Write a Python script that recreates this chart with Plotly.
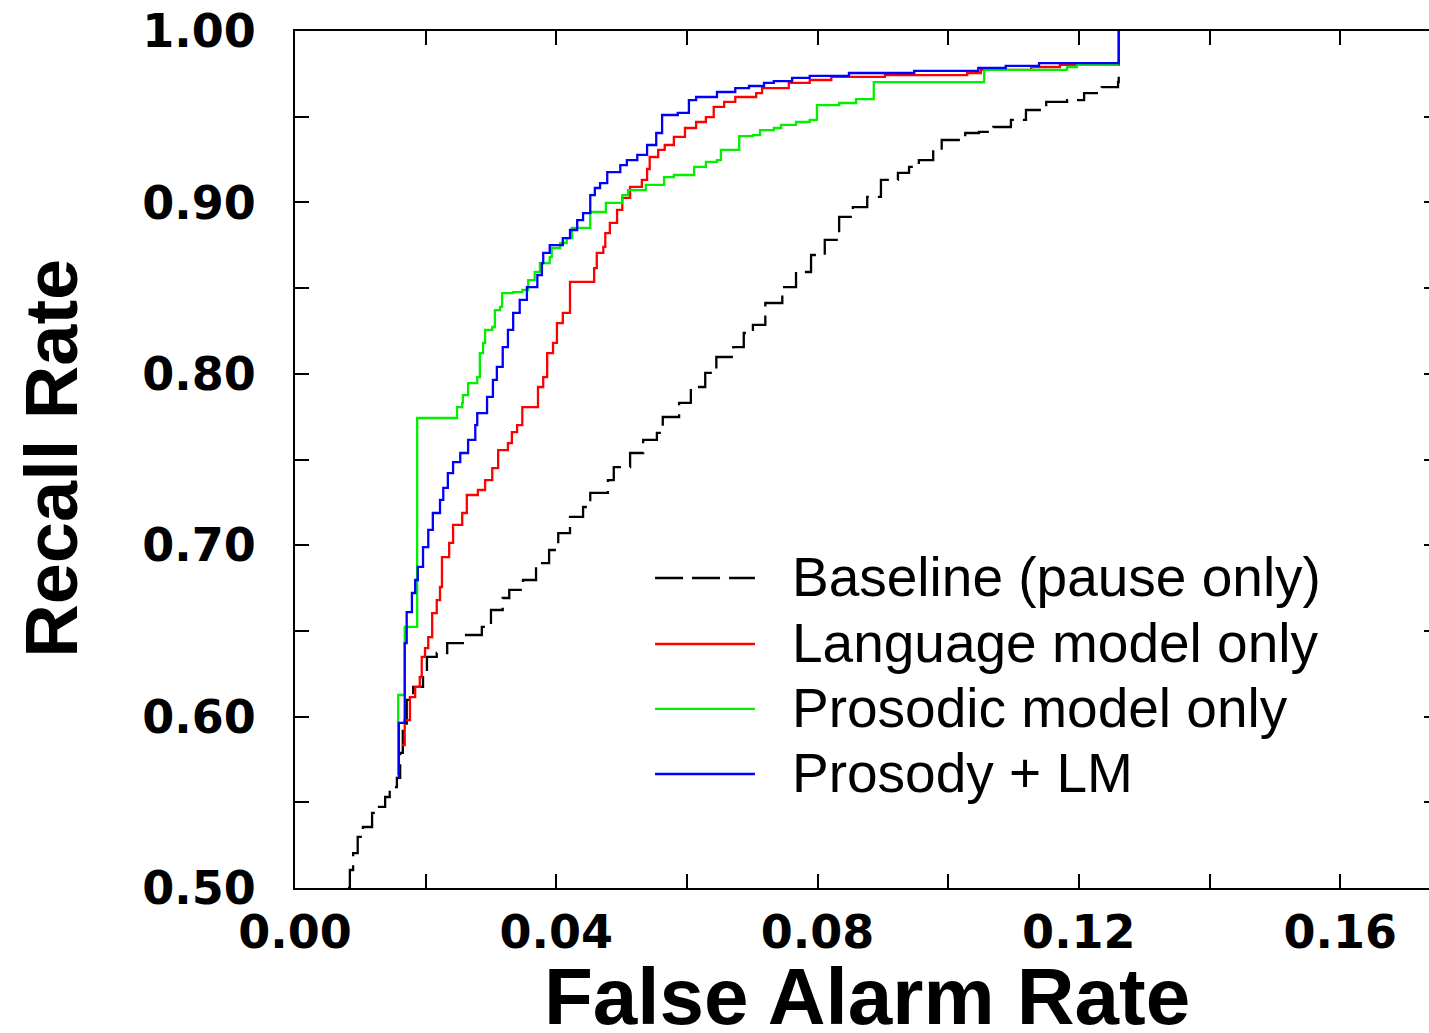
import plotly.graph_objects as go

# ---------------- data ----------------
series_names = ["Baseline (pause only)", "Language model only",
                "Prosodic model only", "Prosody + LM"]

base_fa = [0.0081, 0.0084, 0.0089, 0.0096, 0.0104, 0.0118, 0.0126, 0.0138, 0.0145, 0.0156,
           0.0161, 0.0165, 0.0171, 0.0181, 0.0196, 0.0202, 0.0217, 0.0233, 0.0260, 0.0286,
           0.0300, 0.0318, 0.0328, 0.0349, 0.0369, 0.0389, 0.0403, 0.0421, 0.0441, 0.0452,
           0.0479, 0.0488, 0.0513, 0.0533, 0.0554, 0.0563, 0.0588, 0.0606, 0.0628, 0.0645,
           0.0671, 0.0687, 0.0701, 0.0720, 0.0746, 0.0767, 0.0790, 0.0811, 0.0833, 0.0854,
           0.0876, 0.0897, 0.0923, 0.0940, 0.0955, 0.0977, 0.0990, 0.1026, 0.1047, 0.1069,
           0.1096, 0.1119, 0.1150, 0.1182, 0.1208, 0.1235, 0.1260, 0.1261]
base_rc = [0.5000, 0.5105, 0.5204, 0.5298, 0.5356, 0.5438, 0.5473, 0.5531, 0.5589, 0.5642,
           0.5788, 0.5939, 0.6097, 0.6173, 0.6254, 0.6348, 0.6371, 0.6429, 0.6476, 0.6523,
           0.6622, 0.6692, 0.6739, 0.6797, 0.6896, 0.6972, 0.7071, 0.7165, 0.7223, 0.7305,
           0.7380, 0.7456, 0.7538, 0.7614, 0.7655, 0.7748, 0.7830, 0.7923, 0.8005, 0.8098,
           0.8156, 0.8238, 0.8285, 0.8413, 0.8506, 0.8594, 0.8693, 0.8781, 0.8915, 0.8973,
           0.9032, 0.9131, 0.9172, 0.9207, 0.9247, 0.9306, 0.9364, 0.9405, 0.9411, 0.9440,
           0.9481, 0.9539, 0.9586, 0.9597, 0.9638, 0.9673, 0.9702, 0.9755]

lm_fa = [0.0164, 0.0168, 0.0176, 0.0184, 0.0191, 0.0194, 0.0199, 0.0204, 0.0210, 0.0217,
         0.0222, 0.0225, 0.0236, 0.0242, 0.0256, 0.0263, 0.0280, 0.0291, 0.0302, 0.0311,
         0.0326, 0.0332, 0.0340, 0.0348, 0.0371, 0.0372, 0.0380, 0.0386, 0.0395, 0.0401,
         0.0410, 0.0421, 0.0455, 0.0458, 0.0462, 0.0472, 0.0475, 0.0482, 0.0493, 0.0501,
         0.0513, 0.0531, 0.0539, 0.0543, 0.0556, 0.0566, 0.0580, 0.0597, 0.0614, 0.0629,
         0.0641, 0.0657, 0.0674, 0.0706, 0.0715, 0.0756, 0.0788, 0.0821, 0.0903, 0.1029,
         0.1050, 0.1127, 0.1171, 0.1261, 0.1261]
lm_rc = [0.5834, 0.5980, 0.6114, 0.6173, 0.6231, 0.6348, 0.6400, 0.6464, 0.6604, 0.6680,
         0.6756, 0.6931, 0.7013, 0.7118, 0.7188, 0.7293, 0.7322, 0.7380, 0.7450, 0.7555,
         0.7596, 0.7660, 0.7701, 0.7806, 0.7806, 0.7923, 0.7981, 0.8121, 0.8180, 0.8296,
         0.8355, 0.8536, 0.8536, 0.8617, 0.8705, 0.8740, 0.8821, 0.8880, 0.8956, 0.9026,
         0.9090, 0.9131, 0.9195, 0.9265, 0.9306, 0.9335, 0.9382, 0.9434, 0.9469, 0.9498,
         0.9557, 0.9586, 0.9615, 0.9638, 0.9667, 0.9697, 0.9714, 0.9732, 0.9743, 0.9755,
         0.9773, 0.9790, 0.9802, 0.9813, 1.0000]

pros_fa = [0.0158, 0.0158, 0.0165, 0.0168, 0.0187, 0.0187, 0.0248, 0.0248, 0.0256, 0.0257,
           0.0265, 0.0279, 0.0283, 0.0288, 0.0291, 0.0302, 0.0306, 0.0314, 0.0317, 0.0334,
           0.0348, 0.0357, 0.0367, 0.0375, 0.0390, 0.0393, 0.0406, 0.0416, 0.0424, 0.0452,
           0.0452, 0.0476, 0.0476, 0.0493, 0.0501, 0.0510, 0.0531, 0.0537, 0.0565, 0.0580,
           0.0608, 0.0611, 0.0629, 0.0646, 0.0652, 0.0680, 0.0680, 0.0701, 0.0712, 0.0733,
           0.0744, 0.0767, 0.0788, 0.0799, 0.0833, 0.0859, 0.0886, 0.0886, 0.1050, 0.1055,
           0.1176, 0.1182, 0.1197, 0.1261]
pros_rc = [0.5659, 0.6126, 0.6126, 0.6523, 0.6523, 0.7742, 0.7742, 0.7806, 0.7830, 0.7876,
           0.7946, 0.7981, 0.8121, 0.8180, 0.8256, 0.8273, 0.8372, 0.8390, 0.8471, 0.8477,
           0.8489, 0.8547, 0.8594, 0.8646, 0.8681, 0.8734, 0.8763, 0.8792, 0.8851, 0.8851,
           0.8944, 0.8944, 0.8997, 0.8997, 0.9043, 0.9072, 0.9072, 0.9102, 0.9148, 0.9160,
           0.9160, 0.9207, 0.9236, 0.9247, 0.9306, 0.9317, 0.9387, 0.9393, 0.9422, 0.9434,
           0.9452, 0.9469, 0.9481, 0.9568, 0.9580, 0.9603, 0.9615, 0.9702, 0.9702, 0.9773,
           0.9773, 0.9790, 0.9802, 0.9802]

comb_fa = [0.0159, 0.0159, 0.0168, 0.0168, 0.0171, 0.0179, 0.0184, 0.0188, 0.0196, 0.0204,
           0.0211, 0.0222, 0.0227, 0.0234, 0.0242, 0.0253, 0.0265, 0.0276, 0.0279, 0.0294,
           0.0303, 0.0309, 0.0318, 0.0326, 0.0334, 0.0344, 0.0355, 0.0371, 0.0378, 0.0380,
           0.0390, 0.0401, 0.0410, 0.0421, 0.0432, 0.0441, 0.0452, 0.0459, 0.0467, 0.0478,
           0.0498, 0.0508, 0.0524, 0.0539, 0.0553, 0.0562, 0.0586, 0.0603, 0.0614, 0.0646,
           0.0674, 0.0695, 0.0718, 0.0733, 0.0761, 0.0788, 0.0848, 0.0948, 0.1046, 0.1088,
           0.1139, 0.1261, 0.1261]
comb_rc = [0.5642, 0.5963, 0.6114, 0.6429, 0.6610, 0.6721, 0.6797, 0.6873, 0.6989, 0.7089,
           0.7188, 0.7264, 0.7334, 0.7421, 0.7485, 0.7538, 0.7614, 0.7701, 0.7771, 0.7865,
           0.7964, 0.8040, 0.8156, 0.8256, 0.8355, 0.8431, 0.8506, 0.8576, 0.8646, 0.8705,
           0.8751, 0.8751, 0.8792, 0.8839, 0.8897, 0.8938, 0.9043, 0.9084, 0.9113, 0.9177,
           0.9218, 0.9247, 0.9277, 0.9335, 0.9405, 0.9510, 0.9522, 0.9597, 0.9615, 0.9644,
           0.9667, 0.9679, 0.9697, 0.9708, 0.9726, 0.9738, 0.9755, 0.9767, 0.9784, 0.9796,
           0.9813, 0.9819, 1.0000]

x_tickvals = [0.00, 0.02, 0.04, 0.06, 0.08, 0.10, 0.12, 0.14, 0.16]
x_ticktext = ["0.00", "", "0.04", "", "0.08", "", "0.12", "", "0.16"]
y_tickvals = [0.50, 0.55, 0.60, 0.65, 0.70, 0.75, 0.80, 0.85, 0.90, 0.95, 1.00]
y_ticktext = ["0.50", "", "0.60", "", "0.70", "", "0.80", "", "0.90", "", "1.00"]

# ---------------- figure ----------------
colors = ["#000000", "#ff0000", "#00f000", "#0000ff"]
dashes = ["28px,9px", "solid", "solid", "solid"]
xs = [base_fa, lm_fa, pros_fa, comb_fa]
ys = [base_rc, lm_rc, pros_rc, comb_rc]

fig = go.Figure()
for name, x, y, c, d in zip(series_names, xs, ys, colors, dashes):
    fig.add_trace(go.Scatter(x=x, y=y, name=name, mode="lines",
                             line=dict(color=c, width=2.3, dash=d, shape="hv"),
                             showlegend=False))
# empty trace so the right-hand tick axis is drawn
fig.add_trace(go.Scatter(x=[], y=[], yaxis="y2", showlegend=False, hoverinfo="skip"))

tick_font = dict(family="DejaVu Sans", size=46, color="black", weight="bold")

fig.update_layout(
    width=1429, height=1033,
    margin=dict(l=295, r=0, t=31, b=145),
    paper_bgcolor="white", plot_bgcolor="white",
    xaxis=dict(range=[0, 0.1736], tickvals=x_tickvals, ticktext=x_ticktext,
               ticks="inside", ticklen=14, tickwidth=2, tickcolor="black",
               showline=True, linewidth=2, linecolor="black", mirror="ticks",
               showgrid=False, zeroline=False, tickfont=tick_font,
               ticklabelstandoff=3),
    yaxis=dict(range=[0.5, 1.0], tickvals=y_tickvals, ticktext=y_ticktext,
               ticks="inside", ticklen=14, tickwidth=2, tickcolor="black",
               showline=True, linewidth=2, linecolor="black",
               showgrid=False, zeroline=False, tickfont=tick_font,
               ticklabelstandoff=28),
    yaxis2=dict(range=[0.5, 1.0], tickvals=y_tickvals, overlaying="y", side="right",
                ticks="inside", ticklen=5, tickwidth=2, tickcolor="black",
                showticklabels=False, showline=False, showgrid=False, zeroline=False),
)

# axis titles
fig.add_annotation(text="False Alarm Rate", xref="paper", yref="paper",
                   x=0.504, y=-0.127, xanchor="center", yanchor="middle", showarrow=False,
                   font=dict(family="Liberation Sans", size=80, color="black", weight="bold"))
fig.add_annotation(text="Recall Rate", xref="paper", yref="paper",
                   x=-0.2143, y=0.502, xanchor="center", yanchor="middle", showarrow=False,
                   textangle=-90,
                   font=dict(family="Liberation Sans", size=74, color="black", weight="bold"))

# hand-drawn legend (long line samples like the reference)
leg_y = [0.3630, 0.2860, 0.2102, 0.1343]
for name, c, d, ly in zip(series_names, colors, dashes, leg_y):
    fig.add_shape(type="line", xref="paper", yref="paper",
                  x0=0.3175, x1=0.4056, y0=ly - 0.0013, y1=ly - 0.0013,
                  line=dict(color=c, width=2.3, dash=d))
    fig.add_annotation(text=name, xref="paper", yref="paper", x=0.4365, y=ly,
                       xanchor="left", yanchor="middle", showarrow=False,
                       font=dict(family="Liberation Sans", size=55, color="black"))

fig.write_html("out.html",
               config={"displayModeBar": False},
               post_script="document.body.style.margin='0px';"
                           "document.body.style.overflow='hidden';")
